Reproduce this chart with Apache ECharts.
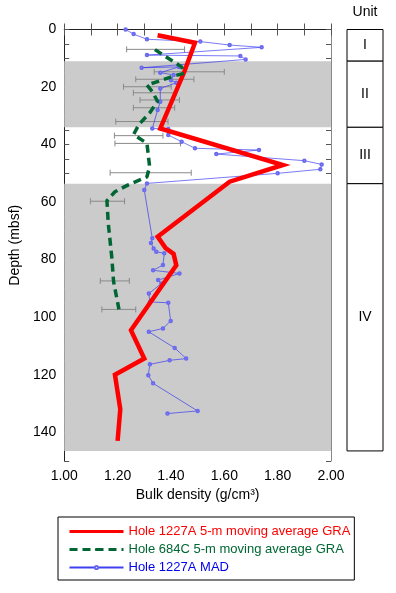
<!DOCTYPE html>
<html><head><meta charset="utf-8">
<script src="https://cdn.jsdelivr.net/npm/echarts@6/dist/echarts.min.js"></script>
<style>html,body{margin:0;padding:0;background:#fff}#c{width:396px;height:593px}</style>
</head><body><div id="c"></div>
<script>
// Hole 1227A 5-m moving average GRA
const graDepth = [2, 4.6, 14.7, 34.4, 47.1, 52.9, 72, 76, 78, 82, 104.5, 114.4, 120, 132, 143];
const graValue = [1.35, 1.49, 1.45, 1.36, 1.82, 1.62, 1.35, 1.38, 1.41, 1.42, 1.25, 1.30, 1.19, 1.21, 1.20];
// Hole 684C 5-m moving average GRA
const g684Depth = [7, 10.6, 13, 15.2, 16.2, 17.8, 19.3, 21.6, 25, 29, 33, 36.5, 39.6, 47.7, 51.2, 54, 56.4, 59.5, 67.4, 79, 87.7, 97.3];
const g684Value = [1.34, 1.40, 1.44, 1.45, 1.41, 1.36, 1.31, 1.33, 1.35, 1.32, 1.28, 1.26, 1.31, 1.32, 1.31, 1.24, 1.19, 1.16, 1.165, 1.178, 1.185, 1.205];
// Hole 1227A MAD
const madDepth = [0, 1.6, 3.4, 4.2, 5.4, 6.2, 8.9, 9.2, 10.4, 13.3, 13.0, 15.0, 15.8, 17.6, 18.5, 20.5, 25.1, 28, 34.4, 34.6, 36.7, 39, 41.3, 41.9, 43.3, 45.6, 46.9, 48.6, 50, 53.5, 55.8, 72.6, 74.2, 76.1, 77.3, 77.8, 81.9, 83.7, 84.8, 87.1, 88.3, 91.8, 94.7, 95, 101.3, 103.9, 105.1, 110.7, 114.4, 115, 116.4, 120.2, 123, 132.6, 133.5];
const madValue = [1.23, 1.26, 1.31, 1.51, 1.62, 1.74, 1.31, 1.66, 1.68, 1.29, 1.43, 1.36, 1.41, 1.40, 1.42, 1.36, 1.36, 1.35, 1.33, 1.39, 1.39, 1.44, 1.49, 1.73, 1.57, 1.90, 1.965, 1.96, 1.80, 1.31, 1.30, 1.33, 1.325, 1.335, 1.345, 1.375, 1.37, 1.333, 1.432, 1.352, 1.364, 1.317, 1.321, 1.39, 1.399, 1.37, 1.317, 1.414, 1.457, 1.395, 1.321, 1.315, 1.333, 1.50, 1.387];
// Error bars
const errDepth = [6.9, 14.7, 17.3, 19.9, 22.0, 24.5, 27.2, 32.0, 36.9, 39.6, 49.8, 59.7, 87.4, 97.3];
const errLow  = [1.234, 1.337, 1.268, 1.222, 1.259, 1.284, 1.259, 1.193, 1.188, 1.19, 1.172, 1.098, 1.135, 1.141];
const errHigh = [1.451, 1.60, 1.486, 1.401, 1.42, 1.432, 1.414, 1.389, 1.37, 1.436, 1.476, 1.226, 1.244, 1.268];
// Lithologic units
const unitNames = ['I', 'II', 'III', 'IV'];
const unitTop = [0, 11, 34, 53.6];
const unitBase = [11, 34, 53.6, 146.5];
const unitShaded = [false, true, false, true];
// Tick labels
const xTickLabels = ['1.00', '1.20', '1.40', '1.60', '1.80', '2.00'];
const yTickLabels = [0, 20, 40, 60, 80, 100, 120, 140];

const FONT = "'Liberation Sans', Arial, Helvetica, sans-serif";
const names = ['Hole 1227A 5-m moving average GRA', 'Hole 684C 5-m moving average GRA', 'Hole 1227A MAD'];

const chart = echarts.init(document.getElementById('c'), null, {renderer: 'canvas'});

const bandData = [];
unitNames.forEach((n, i) => { if (unitShaded[i]) bandData.push([unitTop[i], unitBase[i]]); });

const xFmt = v => { const s = v.toFixed(2); return xTickLabels.indexOf(s) >= 0 ? s : ''; };
const yFmt = v => yTickLabels.indexOf(Math.round(v)) >= 0 && Math.abs(v - Math.round(v)) < 1e-6 ? String(Math.round(v)) : '';

const axisBase = {
  splitLine: {show: false},
  axisTick: {inside: true, length: 5, lineStyle: {color: '#555', width: 1}},
};

const option = {
  animation: false,
  textStyle: {fontFamily: FONT},
  grid: [
    {left: 62, right: 65, top: 29.5, bottom: 132},
    {left: 347, width: 36, top: 29.5, bottom: 132}
  ],
  xAxis: [
    Object.assign({}, axisBase, {
      gridIndex: 0, type: 'value', min: 1, max: 2, interval: 0.1, position: 'bottom',
      axisLine: {show: true, lineStyle: {color: '#888', width: 1}},
      axisTick: {inside: true, length: 6, lineStyle: {color: '#555', width: 1}},
      axisLabel: {formatter: xFmt, color: '#000', fontSize: 14, margin: 8, fontFamily: FONT},
      name: 'Bulk density (g/cm\u00b3)', nameLocation: 'middle', nameGap: 26,
      nameTextStyle: {fontSize: 14, color: '#000', fontFamily: FONT}
    }),
    Object.assign({}, axisBase, {
      gridIndex: 0, type: 'value', min: 1, max: 2, interval: 0.1, position: 'top',
      axisLine: {show: true, lineStyle: {color: '#222', width: 1}},
      axisTick: {inside: true, length: 6, lineStyle: {color: '#555', width: 1}},
      axisLabel: {show: false}
    }),
    {gridIndex: 1, type: 'value', min: 0, max: 1, show: false}
  ],
  yAxis: [
    Object.assign({}, axisBase, {
      gridIndex: 0, type: 'value', inverse: true, min: 0, max: 150, interval: 5, position: 'left',
      axisLine: {show: true, lineStyle: {color: '#222', width: 1}},
      axisLabel: {formatter: yFmt, color: '#000', fontSize: 14, margin: 8, fontFamily: FONT},
      name: 'Depth (mbsf)', nameLocation: 'middle', nameGap: 36, nameRotate: 90,
      nameTextStyle: {fontSize: 14, color: '#000', fontFamily: FONT}
    }),
    Object.assign({}, axisBase, {
      gridIndex: 0, type: 'value', inverse: true, min: 0, max: 150, interval: 5, position: 'right',
      axisLine: {show: true, lineStyle: {color: '#888', width: 1}},
      axisLabel: {show: false}
    }),
    {gridIndex: 1, type: 'value', inverse: true, min: 0, max: 150, show: false}
  ],
  legend: {
    orient: 'vertical', left: 58, top: 517,
    padding: [8, 4, 6, 10], itemGap: 5, itemWidth: 54, itemHeight: 4,
    borderColor: '#000', borderWidth: 1,
    textStyle: {fontSize: 13, fontFamily: FONT},
    data: [
      {name: names[0], textStyle: {color: '#ff0000'}, lineStyle: {width: 3}},
      {name: names[1], textStyle: {color: '#006633'}, lineStyle: {width: 3}},
      {name: names[2], textStyle: {color: '#0000ee'}}
    ]
  },
  graphic: [
    {type: 'text', x: 365, y: 5, style: {text: 'Unit', fontSize: 14, fontFamily: FONT, fill: '#000', align: 'center', verticalAlign: 'top'}}
  ],
  series: [
    {
      type: 'custom', xAxisIndex: 0, yAxisIndex: 0, z: 1, silent: true,
      data: bandData,
      renderItem: (params, api) => {
        const p1 = api.coord([1, api.value(0)]);
        const p2 = api.coord([2, api.value(1)]);
        return {type: 'rect', shape: {x: p1[0], y: p1[1], width: p2[0] - p1[0], height: p2[1] - p1[1]}, style: {fill: '#cbcbcb'}};
      }
    },
    {
      type: 'custom', xAxisIndex: 2, yAxisIndex: 2, z: 2, silent: true,
      data: unitNames.map((n, i) => [unitTop[i], unitBase[i], i]),
      renderItem: (params, api) => {
        const p1 = api.coord([0, api.value(0)]);
        const p2 = api.coord([1, api.value(1)]);
        const name = unitNames[api.value(2)];
        return {type: 'group', children: [
          {type: 'rect', shape: {x: p1[0], y: p1[1], width: p2[0] - p1[0], height: p2[1] - p1[1]}, style: {fill: '#fff', stroke: '#000', lineWidth: 1}},
          {type: 'text', style: {text: name, x: (p1[0] + p2[0]) / 2, y: (p1[1] + p2[1]) / 2, align: 'center', verticalAlign: 'middle', fontSize: 14, fontFamily: FONT, fill: '#000'}}
        ]};
      }
    },
    {
      type: 'custom', xAxisIndex: 0, yAxisIndex: 0, z: 3, silent: true,
      data: errDepth.map((d, i) => [errLow[i], errHigh[i], d]),
      encode: {x: [0, 1], y: 2},
      renderItem: (params, api) => {
        const a = api.coord([api.value(0), api.value(2)]);
        const b = api.coord([api.value(1), api.value(2)]);
        const st = {stroke: '#8a8a8a', lineWidth: 1};
        return {type: 'group', children: [
          {type: 'line', shape: {x1: a[0], y1: a[1], x2: b[0], y2: b[1]}, style: st},
          {type: 'line', shape: {x1: a[0], y1: a[1] - 3, x2: a[0], y2: a[1] + 3}, style: st},
          {type: 'line', shape: {x1: b[0], y1: b[1] - 3, x2: b[0], y2: b[1] + 3}, style: st}
        ]};
      }
    },
    {
      name: names[2], type: 'line', xAxisIndex: 0, yAxisIndex: 0, z: 4,
      data: madDepth.map((d, i) => [madValue[i], d]),
      symbol: 'emptyCircle', symbolSize: 2.5,
      lineStyle: {color: '#2b2bf0', width: 0.7, opacity: 0.9},
      itemStyle: {color: '#6a6af0', borderColor: '#6a6af0', borderWidth: 0.7},
      emphasis: {disabled: true}
    },
    {
      name: names[0], type: 'line', xAxisIndex: 0, yAxisIndex: 0, z: 5,
      data: graDepth.map((d, i) => [graValue[i], d]),
      symbol: 'none',
      lineStyle: {color: '#ff0000', width: 4.5, join: 'miter'},
      itemStyle: {color: '#ff0000'},
      emphasis: {disabled: true}
    },
    {
      name: names[1], type: 'line', xAxisIndex: 0, yAxisIndex: 0, z: 6,
      data: g684Depth.map((d, i) => [g684Value[i], d]),
      symbol: 'none',
      lineStyle: {color: '#006633', width: 3.5, type: [8, 5]},
      itemStyle: {color: '#006633'},
      emphasis: {disabled: true}
    }
  ]
};
chart.setOption(option);
</script>
</body></html>
